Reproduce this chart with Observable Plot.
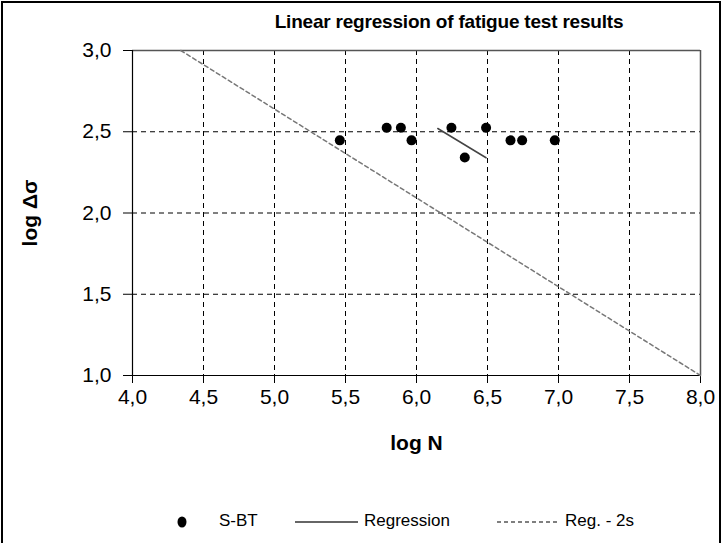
<!DOCTYPE html>
<html>
<head>
<meta charset="utf-8">
<script src="https://cdn.jsdelivr.net/npm/d3@7"></script>
<script src="https://cdn.jsdelivr.net/npm/@observablehq/plot@0.6"></script>
<style>
  html, body { margin: 0; padding: 0; background: #fff; }
  body { width: 722px; height: 543px; overflow: hidden; position: relative; font-family: "Liberation Sans", Arial, sans-serif; }
  #frame { position: absolute; left: 1px; top: 1px; width: 716px; height: 560px; border: 2px solid #000; }
  #chart { position: absolute; left: 0; top: 0; }
  #title { position: absolute; left: 0; width: 898px; top: 11px; text-align: center; font-weight: bold; font-size: 19px; letter-spacing: -0.2px; color: #000; }
  #legend { position: absolute; left: 0; top: 0; }
  .lg { position: absolute; font-size: 17px; color: #000; white-space: nowrap; }
</style>
</head>
<body>
<div id="frame"></div>
<div id="chart"></div>
<div id="title">Linear regression of fatigue test results</div>
<div id="legend"></div>
<script>
// Fatigue test results (S-BT)
const logN = [5.46, 5.79, 5.89, 5.965, 6.246, 6.34, 6.49, 6.662, 6.744, 6.974];
const logS = [2.447, 2.525, 2.525, 2.447, 2.525, 2.342, 2.525, 2.447, 2.447, 2.447];
// Regression line
const regN = [6.15, 6.49];
const regS = [2.52, 2.34];
// Regression - 2s line
const reg2sN = [4.34, 8.0];
const reg2sS = [3.0, 1.0];
// Ticks
const xTicks = [4.0, 4.5, 5.0, 5.5, 6.0, 6.5, 7.0, 7.5, 8.0];
const yTicks = [1.0, 1.5, 2.0, 2.5, 3.0];
const seriesNames = ["S-BT", "Regression", "Reg. - 2s"];

const pts = logN.map((n, i) => ({n, s: logS[i]}));
const reg = regN.map((n, i) => ({n, s: regS[i]}));
const reg2s = reg2sN.map((n, i) => ({n, s: reg2sS[i]}));
const fmt = d => d.toFixed(1).replace(".", ",");

const plot = Plot.plot({
  width: 722,
  height: 543,
  marginTop: 50,
  marginLeft: 132,
  marginRight: 22,
  marginBottom: 168,
  style: {fontFamily: "'Liberation Sans', Arial, sans-serif", background: "transparent", overflow: "visible"},
  x: {domain: [4, 8]},
  y: {domain: [1, 3]},
  marks: [
    Plot.gridX(xTicks, {stroke: "#000", strokeOpacity: 1, strokeDasharray: "5,4", strokeWidth: 1}),
    Plot.gridY(yTicks, {stroke: "#000", strokeOpacity: 1, strokeDasharray: "5,4", strokeWidth: 1}),
    Plot.ruleY([3], {stroke: "#555", strokeWidth: 1.5}),
    Plot.ruleX([8], {stroke: "#555", strokeWidth: 1.5}),
    Plot.ruleY([1], {stroke: "#000", strokeWidth: 1.2}),
    Plot.ruleX([4], {stroke: "#000", strokeWidth: 1.2}),
    Plot.axisX({ticks: xTicks, tickFormat: fmt, tickSize: 8, tickPadding: 6, fontSize: 21, label: null, stroke: "#000"}),
    Plot.axisY({ticks: yTicks, tickFormat: fmt, tickSize: 9, tickPadding: 12, fontSize: 21, label: null, stroke: "#000"}),
    Plot.line(reg2s, {x: "n", y: "s", stroke: "#777", strokeWidth: 1.5, strokeDasharray: "4,3"}),
    Plot.line(reg, {x: "n", y: "s", stroke: "#444", strokeWidth: 1.5}),
    Plot.dot(pts, {x: "n", y: "s", r: 5, fill: "#000", stroke: "none"}),
    Plot.text(["log N"], {frameAnchor: "bottom", dy: 74, fontSize: 21, fontWeight: "bold", fill: "#000"}),
    Plot.text(["log Δσ"], {frameAnchor: "left", dx: -102, rotate: -90, textAnchor: "middle", fontSize: 21, fontWeight: "bold", fill: "#000"})
  ]
});
document.getElementById("chart").appendChild(plot);

// Legend
const lg = document.getElementById("legend");
const items = [
  {type: "dot", x: 176, tx: 219},
  {type: "line", x: 295, tx: 364},
  {type: "dash", x: 497, tx: 565}
];
items.forEach((it, i) => {
  const sw = document.createElementNS("http://www.w3.org/2000/svg", "svg");
  sw.setAttribute("width", it.type === "dot" ? 12 : 64);
  sw.setAttribute("height", 12);
  sw.style.position = "absolute";
  sw.style.left = it.x + "px";
  sw.style.top = "516px";
  if (it.type === "dot") {
    sw.innerHTML = '<ellipse cx="6" cy="6" rx="4.5" ry="5.5" fill="#000"/>';
  } else if (it.type === "line") {
    sw.innerHTML = '<line x1="0" x2="63" y1="6" y2="6" stroke="#333" stroke-width="1.3"/>';
  } else {
    sw.innerHTML = '<line x1="0" x2="60" y1="6" y2="6" stroke="#555" stroke-width="1.3" stroke-dasharray="4,3"/>';
  }
  lg.appendChild(sw);
  const t = document.createElement("div");
  t.className = "lg";
  t.textContent = seriesNames[i];
  t.style.left = it.tx + "px";
  t.style.top = "511px";
  lg.appendChild(t);
});
</script>
</body>
</html>
